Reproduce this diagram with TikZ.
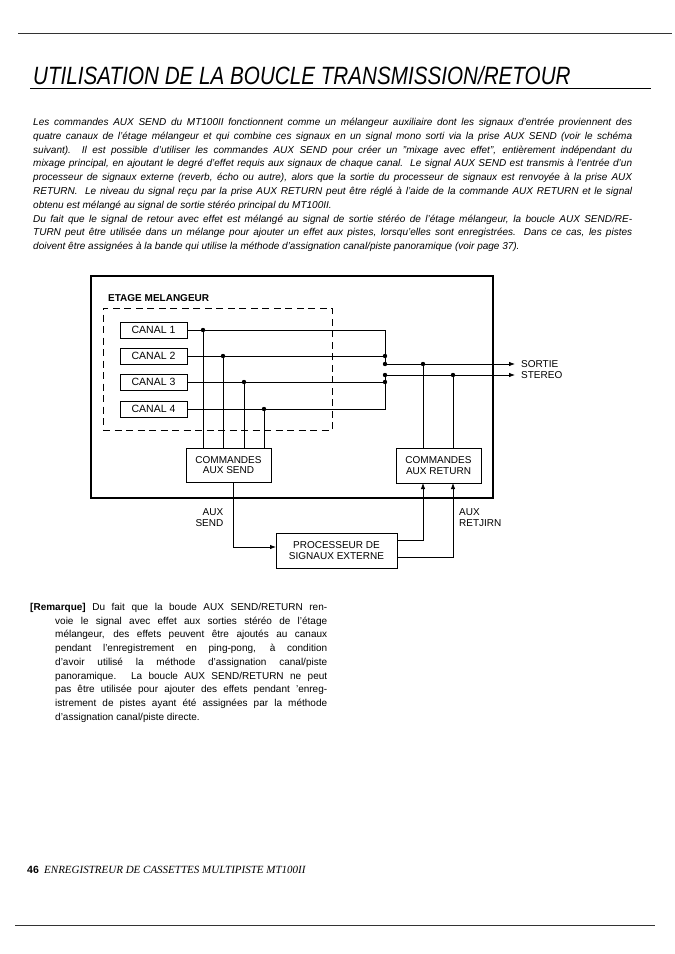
\documentclass[tikz,border=0pt]{standalone}
\usepackage{fontspec}
\setmainfont{Liberation Sans}
\newfontfamily\seriffont{Liberation Serif}
\usetikzlibrary{arrows.meta}
\newcommand{\jline}[1]{\makebox[599pt][s]{#1}}
\newcommand{\rline}[1]{\makebox[272pt][s]{#1}}
\begin{document}
\begin{tikzpicture}[x=1pt,y=-1pt,
  wire/.style={line width=0.8pt},
  rule/.style={line width=0.9pt,black!80},
  chbox/.style={draw,line width=0.9pt,minimum width=67pt,minimum height=16pt,inner sep=0pt,font=\fontsize{10.5}{11}\selectfont},
  blk/.style={draw,line width=0.9pt,inner sep=0pt,align=center,font=\fontsize{10}{10.5}\selectfont},
  lbl/.style={inner sep=0pt,font=\fontsize{10}{10.5}\selectfont},
  dot/.style={circle,fill,inner sep=0pt,minimum size=4.4pt},
  arr/.style={-{Latex[length=6pt,width=4.5pt]}},
  para/.style={anchor=base west,inner sep=0pt,font=\itshape\fontsize{10}{12}\selectfont},
  rem/.style={anchor=base west,inner sep=0pt,font=\fontsize{10}{12}\selectfont},
]
\useasboundingbox[fill=white] (0,0) rectangle (675,954);

% rules and title
\coordinate (tr1) at (18,33); \coordinate (tr2) at (672,33);
\draw[rule] (tr1) -- (tr2);
\node[anchor=base west,inner sep=0pt,font=\itshape\fontsize{25}{28}\selectfont] (title) at (33,84.5) {\scalebox{0.826}[1]{UTILISATION DE LA BOUCLE TRANSMISSION/RETOUR}};
\coordinate (tu1) at (30,88.5); \coordinate (tu2) at (651,88.5);
\draw[line width=0.9pt] (tu1) -- (tu2);

% paragraph
\node[para] (p1) at (33,125.5) {\jline{Les commandes AUX SEND du MT100II fonctionnent comme un mélangeur auxiliaire dont les signaux d'entrée proviennent des}};
\node[para] (p2) at (33,139.3) {\jline{quatre canaux de l'étage mélangeur et qui combine ces signaux en un signal mono sorti via la prise AUX SEND (voir le schéma}};
\node[para] (p3) at (33,153.1) {\jline{suivant).\ \ Il est possible d'utiliser les commandes AUX SEND pour créer un "mixage avec effet", entièrement indépendant du}};
\node[para] (p4) at (33,166.9) {\jline{mixage principal, en ajoutant le degré d'effet requis aux signaux de chaque canal.\ \ Le signal AUX SEND est transmis à l'entrée d'un}};
\node[para] (p5) at (33,180.7) {\jline{processeur de signaux externe (reverb, écho ou autre), alors que la sortie du processeur de signaux est renvoyée à la prise AUX}};
\node[para] (p6) at (33,194.5) {\jline{RETURN.\ \ Le niveau du signal reçu par la prise AUX RETURN peut être réglé à l'aide de la commande AUX RETURN et le signal}};
\node[para] (p7) at (33,208.3) {obtenu est mélangé au signal de sortie stéréo principal du MT100II.};
\node[para] (p8) at (33,222.1) {\jline{Du fait que le signal de retour avec effet est mélangé au signal de sortie stéréo de l'étage mélangeur, la boucle AUX SEND/RE-}};
\node[para] (p9) at (33,235.9) {\jline{TURN peut être utilisée dans un mélange pour ajouter un effet aux pistes, lorsqu'elles sont enregistrées. Dans ce cas, les pistes}};
\node[para] (p10) at (33,249.7) {doivent être assignées à la bande qui utilise la méthode d'assignation canal/piste panoramique (voir page 37).};

% diagram frame
\node[draw,line width=2pt,minimum width=402pt,minimum height=222pt,inner sep=0pt] (outer) at (292,387) {};
\node[draw,line width=0.9pt,dash pattern=on 7pt off 4.5pt,minimum width=229pt,minimum height=122pt,inner sep=0pt] (stage) at (217.5,369) {};
\node[anchor=base west,inner sep=0pt,font=\bfseries\fontsize{10}{11}\selectfont] (stagelbl) at (108,301.5) {ETAGE MELANGEUR};

% channels
\node[chbox] (c1) at (153.5,330) {CANAL 1};
\node[chbox] (c2) at (153.5,356) {CANAL 2};
\node[chbox] (c3) at (153.5,382) {CANAL 3};
\node[chbox] (c4) at (153.5,409) {CANAL 4};

% blocks
\node[blk,minimum width=85pt,minimum height=34pt] (send) at (228.5,465) {COMMANDES\\AUX SEND};
\node[blk,minimum width=85pt,minimum height=35pt] (ret) at (438.5,465.5) {COMMANDES\\AUX RETURN};
\node[blk,minimum width=121pt,minimum height=35pt] (proc) at (336.5,550.5) {PROCESSEUR DE\\SIGNAUX EXTERNE};

% junction dots on channel lines
\node[dot] (d1) at (203,330) {};
\node[dot] (d2) at (223,356) {};
\node[dot] (d3) at (244,382) {};
\node[dot] (d4) at (264,409) {};
% merge bus
\coordinate (m1) at (385,330);
\node[dot] (m2) at (385,356) {};
\node[dot] (mL) at (385,364) {};
\node[dot] (mR) at (385,375) {};
\node[dot] (m3) at (385,382) {};
\coordinate (m4) at (385,409);
% outputs
\coordinate (oL) at (515,364);
\coordinate (oR) at (515,375);
\node[dot] (rL) at (423,364) {};
\node[dot] (rR) at (453,375) {};

\draw[wire] (c1.east) -- (d1) -- (m1) -- (m2) -- (mL);
\draw[wire] (c2.east) -- (d2) -- (m2);
\draw[wire] (c3.east) -- (d3) -- (m3);
\draw[wire] (c4.east) -- (d4) -- (m4) -- (m3) -- (mR);
\draw[wire,arr] (mL) -- (rL) -- (oL);
\draw[wire,arr] (mR) -- (rR) -- (oR);
\draw[wire] (d1) -- (d1 |- send.north);
\draw[wire] (d2) -- (d2 |- send.north);
\draw[wire] (d3) -- (d3 |- send.north);
\draw[wire] (d4) -- (d4 |- send.north);
\draw[wire] (rL) -- (rL |- ret.north);
\draw[wire] (rR) -- (rR |- ret.north);

\node[lbl,anchor=base west] (sortie) at (521,367.6) {SORTIE};
\node[lbl,anchor=base west] (stereo) at (521,378.6) {STEREO};

% external loop
\coordinate (sb) at (233,482);
\coordinate (sc) at (233,547);
\coordinate (pin) at (276,547);
\draw[wire,arr] (sb) -- (sc) -- (pin);
\coordinate (po1) at (397,540);
\coordinate (pc1) at (423,540);
\coordinate (ri1) at (423,483);
\draw[wire,arr] (po1) -- (pc1) -- (ri1);
\coordinate (po2) at (397,557);
\coordinate (pc2) at (453,557);
\coordinate (ri2) at (453,483);
\draw[wire,arr] (po2) -- (pc2) -- (ri2);

\node[lbl,anchor=base east] (auxs1) at (223.5,515.6) {AUX};
\node[lbl,anchor=base east] (auxs2) at (223.5,526) {SEND};
\node[lbl,anchor=base west] (auxr1) at (459,515.6) {AUX};
\node[lbl,anchor=base west] (auxr2) at (459,526) {RETJIRN};

% remark
\node[rem] (r1) at (30,610.5) {\makebox[297pt][s]{\textbf{[Remarque]} Du fait que la boude AUX SEND/RETURN ren-}};
\node[rem] (r2) at (55,624.2) {\rline{voie le signal avec effet aux sorties stéréo de l'étage}};
\node[rem] (r3) at (55,637.9) {\rline{mélangeur, des effets peuvent être ajoutés au canaux}};
\node[rem] (r4) at (55,651.6) {\rline{pendant l'enregistrement en ping-pong, à condition}};
\node[rem] (r5) at (55,665.3) {\rline{d'avoir utilisé la méthode d'assignation canal/piste}};
\node[rem] (r6) at (55,679) {\rline{panoramique. La boucle AUX SEND/RETURN ne peut}};
\node[rem] (r7) at (55,692.7) {\rline{pas être utilisée pour ajouter des effets pendant 'enreg-}};
\node[rem] (r8) at (55,706.4) {\rline{istrement de pistes ayant été assignées par la méthode}};
\node[rem] (r9) at (55,720.1) {d'assignation canal/piste directe.};

% footer
\node[anchor=base west,inner sep=0pt,font=\bfseries\fontsize{10.5}{12}\selectfont] (pg) at (27,873.5) {46};
\node[anchor=base west,inner sep=0pt,font=\seriffont\itshape\fontsize{11}{12}\selectfont] (foot) at (44,873.5) {ENREGISTREUR DE CASSETTES MULTIPISTE MT100II};
\coordinate (br1) at (15,925); \coordinate (br2) at (655,925);
\draw[rule] (br1) -- (br2);
\end{tikzpicture}
\end{document}
